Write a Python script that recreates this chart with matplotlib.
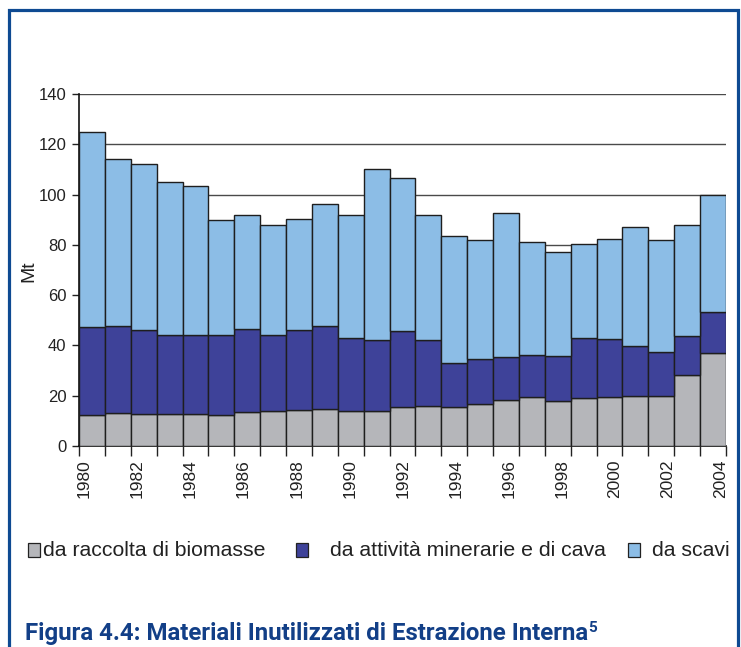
import numpy as np
import matplotlib
matplotlib.use('Agg')
import matplotlib.pyplot as plt
from matplotlib.lines import Line2D
from matplotlib.patches import Rectangle

# dati (Mt)
anni = list(range(1980, 2005))
biomasse = [12.3, 13.3, 12.8, 12.9, 12.7, 12.3, 13.5, 13.9, 14.3, 14.9, 14.1, 14.1, 15.6,
            15.9, 15.5, 16.9, 18.4, 19.6, 17.9, 19.1, 19.5, 19.9, 19.9, 28.4, 37.1]
minerarie = [35.2, 34.6, 33.5, 31.4, 31.6, 31.7, 32.9, 30.4, 31.7, 33.0, 28.7, 27.9, 30.0,
             26.1, 17.7, 17.6, 16.9, 16.7, 17.8, 23.7, 22.9, 19.7, 17.3, 15.2, 16.0]
scavi = [77.3, 66.2, 65.8, 60.6, 59.3, 46.0, 45.3, 43.7, 44.3, 48.2, 49.1, 68.1, 60.9,
         49.9, 50.5, 47.4, 57.4, 44.9, 41.5, 37.6, 39.9, 47.5, 44.8, 44.3, 46.6]
etichette = ['da raccolta di biomasse', 'da attività minerarie e di cava', 'da scavi']
colori = ['#b5b6ba', '#3e4299', '#8cbde6']
y_ticks = [0, 20, 40, 60, 80, 100, 120, 140]

W, H = 741, 647
plt.rcParams['font.family'] = ['Liberation Sans', 'DejaVu Sans']

def fx(px):
    return px / W

def fy(py):
    return 1 - py / H

fig = plt.figure(figsize=(W / 100, H / 100), dpi=100)
ax = fig.add_axes([fx(79), fy(446), fx(726) - fx(79), fy(94) - fy(446)])

x = np.arange(len(anni))
bottom = np.zeros(len(anni))
for valori, col in zip([biomasse, minerarie, scavi], colori):
    ax.bar(x, valori, width=1.0, bottom=bottom, color=col, edgecolor='#1e1e1e',
           linewidth=1.0, zorder=3)
    bottom += np.array(valori)

ax.set_xlim(-0.5, len(anni) - 0.5)
ax.set_ylim(0, 140)
ax.set_yticks(y_ticks)
ax.set_yticklabels([str(v) for v in y_ticks], fontsize=12, color='#222222')
ax.yaxis.grid(True, color='#4a4a4a', linewidth=1.0, zorder=0)
ax.set_axisbelow(True)

# tacche tra le categorie, etichette ogni due anni
ax.set_xticks(np.arange(len(anni) + 1) - 0.5)
ax.set_xticklabels([])
ax.tick_params(axis='x', length=7, width=1.0, color='#222222')
ax.tick_params(axis='y', length=5, width=1.0, color='#222222', pad=4)
pos_lab = np.linspace(-0.29, 24.31, 13)
for p, a in zip(pos_lab, anni[::2]):
    ax.text(p, -0.038, str(a), transform=ax.get_xaxis_transform(), rotation=90,
            ha='center', va='top', fontsize=12.5, color='#222222')

for s in ['top', 'right']:
    ax.spines[s].set_visible(False)
for s in ['left', 'bottom']:
    ax.spines[s].set_linewidth(1.2)
    ax.spines[s].set_color('#111111')

fig.text(fx(29), fy(271), 'Mt', rotation=90, ha='center', va='center',
         fontsize=14, color='#222222')

# legenda
leg_sq = [28, 296, 628]
leg_tx = [43, 330, 652]
for sq, tx, lab, col in zip(leg_sq, leg_tx, etichette, colori):
    fig.add_artist(Rectangle((fx(sq), fy(557)), fx(12), 14 / H, transform=fig.transFigure,
                             facecolor=col, edgecolor='#222222', linewidth=0.9))
    fig.text(fx(tx), fy(550), lab, ha='left', va='center', fontsize=15.3, color='#222222')

# cornice blu
blu = '#0e4a92'
fig.add_artist(Line2D([fx(9), fx(9), fx(737.5), fx(737.5)], [0, fy(9.5), fy(9.5), 0],
                      transform=fig.transFigure, color=blu, linewidth=2.3,
                      solid_joinstyle='miter'))

# didascalia
fam_cap = ['Roboto', 'DejaVu Sans']
cap = fig.text(fx(25), fy(640), 'Figura 4.4: Materiali Inutilizzati di Estrazione Interna',
               ha='left', va='baseline', fontsize=17.3, fontweight='bold', color='#123f87',
               family=fam_cap)
fig.canvas.draw()
bb = cap.get_window_extent()
fig.text(bb.x1 / W + fx(0.5), fy(632), '5', ha='left', va='baseline', fontsize=11,
         fontweight='bold', color='#123f87', family=fam_cap)

fig.savefig('out.png', dpi=100)
